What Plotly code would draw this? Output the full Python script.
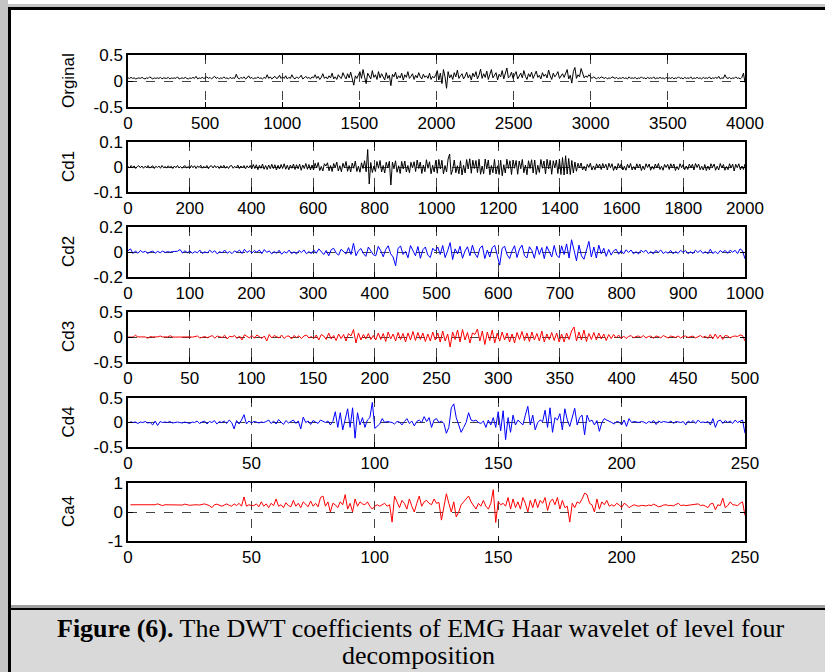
import numpy as np
import plotly.graph_objects as go

W, H = 825, 672

# ---------------- data ----------------
orig_vals = [
    0.06,0.05,0.07,0.05,0.06,0.04,0.05,0.06,0.05,0.07, 0.05,0.04,0.06,0.05,0.08,0.05,0.04,0.06,0.05,0.06,
    0.05,0.07,0.04,0.06,0.05,0.05,0.07,0.04,0.06,0.05, 0.06,0.05,0.08,0.04,0.05,0.06,0.05,0.07,0.05,0.04,
    0.06,0.05,0.07,0.05,0.09,0.04,0.06,0.05,0.07,0.05,
    0.06,0.08,0.05,0.07,0.04,0.06,0.09,0.05,0.07,0.04, 0.06,0.05,0.08,0.05,0.06,0.04,0.07,0.05,0.06,0.05,
    0.13,0.06,0.04,0.07,0.05,0.08,0.04,0.06,0.10,0.05, 0.07,0.04,0.06,0.05,0.08,0.05,0.06,0.04,0.07,0.05,
    0.12,0.05,0.08,0.04,0.07,0.09,0.05,0.06,0.11,0.05,
    0.08,0.05,0.10,0.04,0.07,0.05,0.12,0.06,0.04,0.08, 0.05,0.07,0.11,0.04,0.06,0.09,0.05,0.07,0.04,0.08,
    0.06,0.12,0.05,0.09,0.03,0.07,0.14,0.05,0.08,0.04, 0.10,0.06,0.15,0.04,0.08,0.03,0.12,0.07,0.05,0.16,
    0.09,0.04,0.14,0.06,0.17,0.03,-0.08,0.10,0.05,0.12,
    0.18,0.05,0.22,0.08,-0.05,0.15,0.10,0.04,0.20,0.07, 0.12,0.03,0.18,0.06,0.14,0.09,0.02,0.16,0.05,0.11,
    -0.09,0.13,0.08,0.17,0.04,0.10,0.06,0.15,0.02,0.12, 0.07,0.18,0.05,0.09,0.14,0.03,0.11,0.06,0.16,0.08,
    0.04,0.13,0.07,0.10,0.05,0.15,0.03,0.09,0.06,0.12,
    0.20,0.02,0.15,-0.05,0.22,0.08,-0.14,0.18,0.06,0.12, 0.03,0.16,0.08,0.21,0.05,0.10,0.14,0.04,0.09,0.17,
    0.06,0.12,0.02,0.15,0.08,0.18,0.04,0.11,0.23,0.05, 0.14,0.07,0.19,0.03,0.12,0.22,0.06,0.10,0.16,0.02,
    0.13,0.08,0.20,0.04,0.15,0.25,0.06,0.09,0.17,0.05,
    0.12,0.18,0.04,0.10,0.15,0.06,0.20,0.09,0.03,0.14, 0.08,0.17,0.05,0.12,0.19,0.07,0.11,0.04,0.16,0.09,
    0.13,0.06,0.21,0.10,0.03,0.15,0.08,0.12,0.18,0.05, 0.10,0.14,0.07,0.16,0.22,0.04,0.11,-0.04,0.18,0.26,
    0.05,0.12,0.08,0.24,0.15,0.06,0.10,0.07,0.12,0.08,
    0.05,0.08,0.06,0.04,0.07,0.05,0.08,0.06,0.05,0.07, 0.04,0.06,0.05,0.08,0.06,0.05,0.07,0.04,0.06,0.05,
    0.07,0.05,0.06,0.04,0.08,0.05,0.06,0.05,0.07,0.04, 0.06,0.05,0.08,0.05,0.06,0.04,0.07,0.05,0.06,0.05,
    0.08,0.04,0.06,0.05,0.07,0.05,0.06,0.04,0.07,0.05,
    0.06,0.05,0.07,0.04,0.06,0.05,0.08,0.05,0.06,0.04, 0.07,0.05,0.06,0.05,0.08,0.04,0.06,0.05,0.07,0.05,
    0.06,0.04,0.07,0.05,0.06,0.05,0.08,0.04,0.06,0.05, 0.07,0.05,0.09,0.04,0.06,0.05,0.12,0.06,0.05,0.07,
    0.04,0.06,0.05,0.08,0.05,0.06,0.04,0.07,0.15,-0.03,
]

cd1_vals = [
    0.003,-0.004,0.006,-0.002,0.004,-0.006,0.002,0.005,-0.003,0.004, -0.005,0.003,-0.002,0.006,-0.004,0.002,0.005,-0.006,0.003,-0.002,
    0.004,-0.005,0.006,-0.003,0.002,-0.004,0.005,-0.002,0.003,-0.006, 0.004,-0.003,0.006,-0.004,0.002,-0.005,0.003,0.005,-0.004,0.002,
    -0.004,0.006,-0.003,0.005,-0.006,0.004,-0.002,0.007,-0.005,0.003, -0.004,0.006,-0.007,0.003,0.005,-0.004,0.006,-0.003,0.004,-0.006,
    0.005,-0.004,0.007,-0.005,0.003,-0.006,0.004,0.006,-0.005,0.003, -0.004,0.008,-0.006,0.004,-0.003,0.006,-0.007,0.005,-0.004,0.006,
    -0.008,0.010,-0.006,0.009,-0.011,0.007,-0.005,0.012,-0.009,0.006, -0.010,0.008,-0.007,0.011,-0.006,0.009,-0.012,0.007,-0.008,0.010,
    -0.006,0.013,-0.009,0.007,-0.011,0.008,-0.005,0.012,-0.010,0.009, -0.007,0.011,-0.013,0.008,-0.006,0.014,-0.009,0.010,-0.012,0.008,
    -0.012,0.015,-0.004,0.018,-0.014,0.002,-0.016,0.013,0.004,0.017, -0.015,0.006,-0.018,0.014,-0.003,0.020,-0.016,0.005,-0.019,0.015,
    -0.004,0.022,-0.017,0.006,-0.020,0.016,-0.005,0.024,-0.018,0.003, -0.021,0.017,-0.006,0.025,-0.019,0.070,-0.068,0.018,-0.022,0.004,
    -0.018,0.022,-0.005,0.026,-0.020,0.006,-0.024,0.019,-0.004,0.023, -0.072,0.020,-0.007,0.025,-0.021,0.005,-0.026,0.022,-0.008,0.024,
    -0.020,0.006,-0.023,0.019,-0.004,0.021,-0.018,0.028,-0.006,0.020, -0.026,0.008,-0.019,0.029,-0.005,0.021,-0.027,0.007,-0.020,0.026,
    -0.025,0.030,-0.008,0.027,-0.028,0.006,-0.020,0.032,0.052,-0.030, -0.009,0.028,-0.023,0.005,-0.027,0.025,-0.032,0.007,-0.024,0.030,
    -0.008,0.033,-0.025,0.027,-0.006,0.026,-0.022,0.031,-0.029,0.004, -0.027,0.032,-0.008,0.028,-0.031,0.006,-0.023,0.030,-0.028,0.005,
    -0.030,0.027,-0.035,0.009,-0.024,0.031,-0.006,0.025,-0.030,0.028, -0.005,0.026,-0.029,0.024,-0.007,0.030,-0.023,0.008,-0.031,0.025,
    -0.006,0.029,-0.024,0.028,-0.030,0.007,-0.022,0.030,-0.005,0.024, -0.028,0.031,-0.008,0.027,-0.029,0.025,-0.004,0.028,-0.026,0.032,
    -0.030,0.038,-0.032,0.045,-0.028,0.034,-0.030,0.026,-0.024,0.020, -0.017,0.015,-0.004,0.016,-0.012,0.003,-0.015,0.011,-0.002,0.015,
    -0.012,0.004,-0.011,0.013,-0.003,0.012,-0.010,0.014,-0.004,0.011, -0.012,0.015,-0.003,0.013,-0.014,0.004,-0.012,0.014,-0.002,0.013,
    -0.012,0.003,-0.013,0.011,-0.004,0.014,-0.012,0.002,-0.011,0.013, -0.003,0.012,-0.014,0.004,-0.011,0.013,-0.002,0.012,-0.013,0.003,
    -0.009,0.012,-0.004,0.014,-0.010,0.003,-0.013,0.010,-0.002,0.011, -0.010,0.013,-0.004,0.012,-0.014,0.002,-0.011,0.013,-0.003,0.010,
    -0.011,0.004,-0.010,0.012,-0.003,0.011,-0.012,0.014,-0.002,0.012, -0.011,0.003,-0.012,0.010,-0.014,0.004,-0.011,0.013,-0.002,0.012,
    -0.013,0.003,-0.012,0.014,-0.004,0.010,-0.013,0.002,-0.011,0.013, -0.004,0.012,-0.016,0.011,-0.003,0.013,-0.011,0.004,-0.010,0.012,
]

cd2_vals = [
    0.010,0.025,-0.012,0.008,-0.010,0.012,-0.003,0.006,-0.011,0.002, 0.007,-0.009,0.005,-0.006,0.008,-0.004,0.003,-0.002,0.004,0.002,
    0.006,0.020,-0.008,0.010,-0.006,
    0.008,-0.010,0.003,-0.006,0.015,-0.012,0.002,-0.008,0.014,-0.004, 0.010,-0.015,0.003,-0.007,0.016,-0.010,0.004,-0.013,0.009,-0.002,
    0.015,-0.012,0.022,-0.004,0.010,
    -0.008,0.012,-0.002,0.016,-0.014,0.020,-0.003,0.009,-0.015,0.004, -0.010,0.014,-0.018,0.003,-0.009,0.015,-0.013,0.002,-0.016,0.012,
    -0.004,0.017,-0.014,0.003,-0.012,
    0.015,-0.010,0.025,0.005,-0.020,0.012,-0.030,0.018,0.030,-0.008, -0.025,0.022,0.004,-0.015,0.035,-0.020,0.070,-0.030,0.010,0.028,
    -0.012,-0.035,0.040,0.006,-0.022,
    -0.030,0.045,0.010,-0.038,0.020,0.050,-0.015,-0.040,-0.110,0.030, 0.048,-0.020,0.005,-0.046,0.052,0.012,-0.030,0.044,-0.050,0.018,
    0.040,-0.025,-0.044,0.030,0.008,
    0.040,-0.020,0.052,-0.045,0.010,0.075,-0.060,0.025,-0.015,0.046, -0.050,0.008,0.042,-0.030,0.055,-0.012,-0.044,0.030,0.050,-0.052,
    0.015,-0.040,0.035,0.053,-0.025,
    -0.105,0.030,0.046,-0.022,-0.052,0.010,0.050,-0.044,0.025,0.055, -0.030,-0.048,0.042,0.012,-0.050,0.047,-0.020,0.035,-0.053,0.045,
    0.008,-0.040,0.052,-0.025,-0.046,
    0.049,-0.020,0.065,-0.048,0.098,0.015,-0.070,0.055,-0.030,-0.058, 0.020,0.085,-0.040,0.040,-0.048,0.055,-0.015,0.030,-0.035,0.020,
    -0.025,0.010,0.022,-0.018,0.012,
    -0.015,0.018,-0.004,0.016,-0.014,0.003,-0.016,0.014,-0.002,0.015, -0.013,0.004,-0.015,0.013,-0.003,0.016,-0.012,0.002,-0.010,0.013,
    -0.015,0.004,-0.011,0.014,-0.003,
    0.012,-0.014,0.002,-0.013,0.015,-0.004,0.014,-0.011,0.003,-0.015, 0.022,-0.012,0.004,-0.014,0.012,-0.003,0.013,-0.011,0.015,-0.002,
    0.014,-0.013,0.025,0.010,-0.055,
]

cd3_vals = [
    0,0.003,-0.002,0.035,0,0.002,-0.003,0.001,-0.025,0.01, 0.001,0,0.002,0.02,-0.001,0.002,0,0.025,0.001,-0.002, 0,0.002,0.001,-0.001,0.015,
    0.002,-0.003,0.001,0.02,-0.02,0.003,0.01,-0.015,0.004,0.03, -0.025,0.02,0.005,-0.01,0.035,-0.04,0.015,0.002,0.03,-0.03, 0.02,-0.06,0.045,0.01,-0.02,
    0.03,-0.025,0.04,0.01,-0.03,0.02,-0.08,0.05,-0.02,0.03, 0.01,-0.02,0.04,-0.03,0.015,0.02,-0.04,0.03,-0.01,0.025, -0.03,0.02,0.04,-0.02,0.01,
    -0.03,0.04,-0.06,0.05,0.02,-0.05,0.08,-0.04,0.03,-0.07, 0.06,-0.03,0.05,-0.08,0.07,0.02,0.15,-0.12,0.08,-0.06, 0.05,-0.04,0.07,-0.05,0.03,
    -0.06,0.08,-0.05,0.07,-0.09,0.1,-0.04,0.06,-0.08,0.09, -0.05,0.07,-0.1,0.08,-0.06,0.11,-0.07,0.09,-0.05,0.08, -0.09,0.06,-0.08,0.1,-0.06,
    0.08,-0.1,0.12,-0.08,0.06,-0.2,0.1,-0.05,0.14,-0.1, 0.15,-0.06,0.09,-0.12,0.08,0.05,0.16,-0.08,0.12,-0.15, 0.1,-0.07,0.14,-0.12,0.08,
    -0.08,0.1,-0.06,0.08,-0.1,0.06,-0.12,0.09,-0.05,0.11, -0.07,0.08,-0.09,0.1,-0.06,0.07,-0.08,0.12,-0.1,0.06, -0.05,0.09,-0.07,0.08,-0.1,
    0.06,-0.1,0.08,-0.05,0.12,0.2,-0.08,0.1,-0.06,0.14, -0.09,0.07,-0.05,0.09,-0.06,0.08,-0.04,0.06,-0.07,0.05, -0.03,0.05,-0.02,0.04,-0.03,
    0.02,-0.03,0.01,0.03,-0.02,0.01,0.02,-0.01,0.03,-0.02, 0.01,0.02,-0.03,0.02,0.01,-0.02,0.03,0.01,-0.02,0.02, 0.01,-0.01,0.02,-0.02,0.01,
    0.02,-0.01,0.01,0.02,-0.02,0.01,0.03,-0.01,0.02,-0.03, 0.05,-0.04,0.06,-0.03,0.04,-0.05,0.03,0.02,-0.02,0.01, 0.02,0.01,0.04,0.03,-0.08,
]

cd4_vals = [
    0.02,0.00,0.01,-0.02,0.01,0.00,0.02,-0.01,0.00,-0.05, 0.03,-0.06,0.02,0.00,0.01,0.00,0.02,-0.01,0.00,0.01, 0.00,-0.01,0.01,0.00,-0.02,
    0.01,0.00,0.03,-0.02,0.01,0.03,-0.03,0.02,0.00,0.04, -0.03,0.02,0.00,0.03,-0.02,0.05,0.00,-0.13,0.04,-0.03, 0.05,0.16,-0.03,0.03,-0.01,
    0.02,0.01,-0.01,0.01,0.00,0.02,0.05,-0.02,0.03,-0.03, 0.06,0.01,-0.04,0.04,-0.01,0.02,0.05,-0.02,0.03,-0.13, 0.11,0.00,0.03,-0.04,0.04,
    0.01,-0.02,0.05,0.02,0.00,0.03,-0.05,0.02,0.22,-0.10, 0.20,-0.15,0.05,0.28,-0.10,0.30,-0.32,0.20,-0.05,0.10, -0.10,0.05,0.10,0.41,-0.12,
    -0.08,-0.03,0.08,0.00,0.02,0.01,0.00,-0.03,0.02,0.01, -0.05,0.02,0.08,-0.02,0.03,-0.07,0.02,0.05,0.00,0.12, 0.02,0.10,-0.10,0.05,0.08,
    0.00,0.03,-0.02,-0.22,-0.10,0.30,0.38,0.10,-0.05,-0.20, -0.10,0.00,0.20,0.05,0.03,0.05,0.00,-0.02,0.03,-0.10, 0.05,-0.05,0.10,-0.10,0.22,
    -0.17,0.24,-0.35,0.10,-0.20,0.15,-0.05,0.05,0.00,-0.05, 0.15,0.33,-0.05,0.15,-0.15,0.00,0.05,0.02,0.25,-0.10, 0.30,-0.20,0.10,0.05,0.18,
    -0.15,0.28,0.05,-0.08,0.12,0.29,-0.05,0.10,0.15,-0.25, 0.15,0.02,0.05,-0.05,0.04,-0.18,0.00,0.08,0.05,0.03, 0.00,-0.03,0.02,0.01,-0.05,
    0.05,-0.08,0.08,0.00,0.02,0.01,0.00,0.02,0.01,-0.02, 0.02,0.00,0.04,-0.04,0.03,0.00,0.02,0.01,0.00,0.03, -0.02,0.02,0.01,0.00,0.02,
    -0.05,0.03,0.00,0.04,-0.02,0.05,0.00,0.01,0.00,0.02, -0.05,0.08,-0.10,0.03,0.05,-0.02,0.04,0.00,0.03,-0.02, 0.05,0.00,0.02,0.05,-0.22,
]

ca4_vals = [
    0.25,0.25,0.25,0.24,0.25,0.25,0.25,0.25,0.25,0.24, 0.25,0.28,0.24,0.22,0.25,0.25,0.24,0.25,0.25,0.25, 0.25,0.24,0.27,0.25,0.23,
    0.24,0.25,0.25,0.24,0.26,0.28,0.25,0.22,0.15,0.25, 0.27,0.22,0.20,0.24,0.28,0.23,0.20,0.28,0.22,0.30, 0.20,0.52,0.20,0.25,0.22,
    0.22,0.28,0.18,0.35,0.20,0.28,0.15,0.30,0.22,0.45, 0.20,0.25,0.15,0.32,0.22,0.18,0.40,0.20,0.30,0.15, 0.35,0.25,0.18,0.38,0.20,
    0.30,0.18,0.50,0.55,0.20,0.35,0.00,0.30,0.25,0.15, 0.35,0.25,0.60,0.10,0.30,0.00,0.45,0.20,0.35,0.28, 0.25,0.35,0.20,0.10,0.20,
    0.25,0.20,0.25,0.30,0.20,0.25,-0.35,0.55,0.35,0.15, 0.40,0.30,0.10,0.45,0.20,0.00,0.30,0.55,0.20,0.35, 0.40,0.30,0.25,0.45,0.30,
    0.33,-0.28,0.25,0.63,0.30,0.00,0.35,-0.17,0.00,0.25, 0.35,0.45,0.55,0.35,0.20,0.10,0.30,0.20,0.40,0.20, 0.10,0.30,0.77,-0.36,0.35,
    0.25,0.30,0.20,0.50,0.10,0.45,0.15,0.35,0.10,0.50, 0.30,0.00,0.40,0.15,0.45,0.15,0.40,0.30,0.50,0.05, 0.35,0.45,0.25,0.50,0.10,
    0.40,0.15,0.20,-0.35,0.30,0.15,0.35,0.30,0.45,0.65, 0.60,0.30,0.25,0.00,0.45,0.10,0.35,0.25,0.40,0.20, 0.25,0.20,0.30,0.25,0.15,
    0.30,0.25,0.15,0.20,0.25,0.22,0.20,0.23,0.22,0.21, 0.24,0.22,0.27,0.22,0.18,0.20,0.24,0.25,0.22,0.23, 0.21,0.26,0.30,0.22,0.24,
    0.22,0.23,0.25,0.24,0.26,0.28,0.22,0.24,0.20,0.15, 0.28,0.30,0.08,0.25,0.22,0.48,0.15,0.22,0.35,0.25, 0.24,0.22,0.30,0.35,-0.12,
]

panel_names = ["Orginal", "Cd1", "Cd2", "Cd3", "Cd4", "Ca4"]
panel_colors = ["#000000", "#000000", "#0000ff", "#ff0000", "#0000ff", "#ff0000"]
panel_values = [orig_vals, cd1_vals, cd2_vals, cd3_vals, cd4_vals, ca4_vals]
x_max = [4000, 2000, 1000, 500, 250, 250]
x_step = [500, 200, 100, 50, 50, 50]
y_ticks = [[-0.5, 0, 0.5], [-0.1, 0, 0.1], [-0.2, 0, 0.2],
           [-0.5, 0, 0.5], [-0.5, 0, 0.5], [-1, 0, 1]]
y_ticktext = [["-0.5", "0", "0.5"], ["-0.1", "0", "0.1"], ["-0.2", "0", "0.2"],
              ["-0.5", "0", "0.5"], ["-0.5", "0", "0.5"], ["-1", "0", "1"]]
caption_bold = "Figure (6)."
caption_rest = " The DWT coefficients of EMG Haar wavelet of level four"
caption_line2 = "decomposition"

# ---------------- layout geometry (pixels) ----------------
plot_left, plot_right = 128, 745
panel_px = [(55, 107), (142, 192), (227, 277), (312, 362), (398, 447), (483, 541)]

def px(x):
    return x / W

def py(y):
    return 1 - y / H

FONT = "Arial, Liberation Sans, sans-serif"
fig = go.Figure()
layout = {}

for i, vals in enumerate(panel_values):
    n = len(vals)
    if x_max[i] == 250:
        xs = np.linspace(1, 250, n)
    else:
        xs = np.linspace(0, x_max[i], n)
    sfx = "" if i == 0 else str(i + 1)
    fig.add_trace(go.Scatter(x=xs, y=vals, mode="lines",
                             line=dict(color=panel_colors[i], width=1),
                             xaxis="x" + sfx, yaxis="y" + sfx,
                             showlegend=False, hoverinfo="skip"))
    top, bot = panel_px[i]
    common = dict(showline=True, linecolor="black", linewidth=1.5, mirror="ticks",
                  ticks="inside", ticklen=5, tickcolor="black", tickwidth=1,
                  showgrid=True, gridcolor="#444444", gridwidth=1, griddash="dash",
                  zeroline=False, automargin=False,
                  tickfont=dict(family=FONT, size=17, color="black"))
    layout["xaxis" + sfx] = dict(common, domain=[px(plot_left), px(plot_right)],
                                 anchor="y" + sfx, range=[0, x_max[i]],
                                 tickvals=list(range(0, x_max[i] + 1, x_step[i])))
    layout["yaxis" + sfx] = dict(common, domain=[py(bot), py(top)],
                                 anchor="x" + sfx, range=[y_ticks[i][0], y_ticks[i][-1]],
                                 tickvals=y_ticks[i], ticktext=y_ticktext[i])

annotations = []
for i, name in enumerate(panel_names):
    top, bot = panel_px[i]
    annotations.append(dict(text=name, xref="paper", yref="paper",
                            x=px(68), y=py((top + bot) / 2), textangle=-90,
                            showarrow=False, xanchor="center", yanchor="middle",
                            font=dict(family=FONT, size=17, color="black")))

SERIF = "Times New Roman, Liberation Serif, serif"
annotations.append(dict(text="<b>" + caption_bold + "</b>" + caption_rest,
                        xref="paper", yref="paper", x=px(421), y=py(628),
                        showarrow=False, xanchor="center", yanchor="middle",
                        font=dict(family=SERIF, size=26, color="black")))
annotations.append(dict(text=caption_line2, xref="paper", yref="paper",
                        x=px(418), y=py(655), showarrow=False,
                        xanchor="center", yanchor="middle",
                        font=dict(family=SERIF, size=26, color="black")))

def rect(x0, y0, x1, y1, color):
    return dict(type="rect", xref="paper", yref="paper", layer="below",
                x0=px(x0), x1=px(x1), y0=py(y1), y1=py(y0),
                fillcolor=color, line=dict(width=0))

shapes = [
    rect(0, 0, 8, H, "#c4c4c4"),
    rect(0, 4, W, 7, "#c4c4c4"),
    rect(8, 7, W, 10, "#000000"),
    rect(8, 7, 11, H, "#000000"),
    rect(11, 605, W, 608, "#a0a0a0"),
    rect(11, 608, W, 610, "#000000"),
    rect(11, 610, W, H, "#d9d9d9"),
]

fig.update_layout(**layout)
fig.update_layout(template="none", width=W, height=H,
                  margin=dict(l=0, r=0, t=0, b=0, pad=0),
                  paper_bgcolor="white", plot_bgcolor="white",
                  annotations=annotations, shapes=shapes, showlegend=False)

fig.write_html("out.html", config={"displayModeBar": False},
               post_script="document.body.style.margin='0';"
                           "document.body.style.overflow='hidden';")
